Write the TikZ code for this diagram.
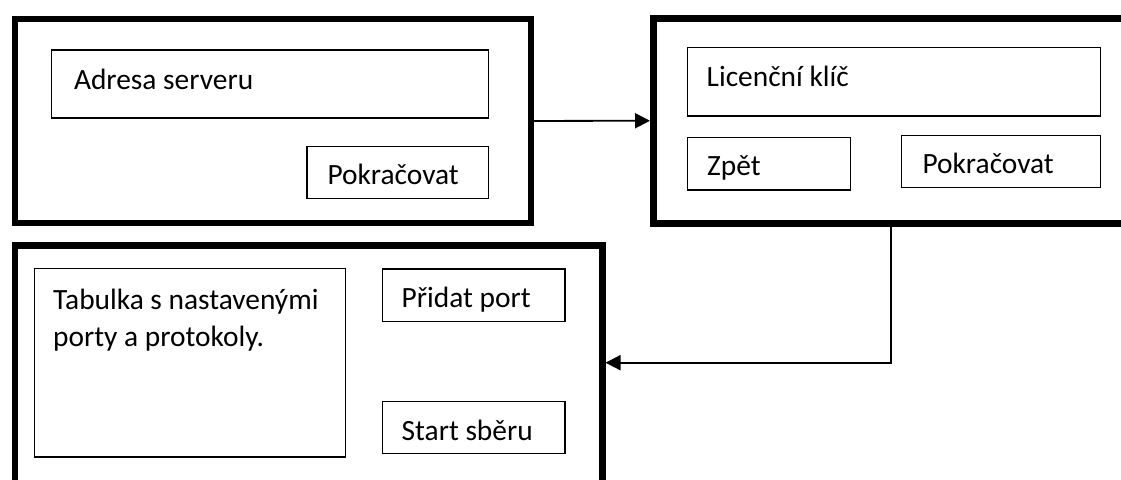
\documentclass[tikz,border=0pt]{standalone}
\usepackage{fontspec}
\setmainfont{Carlito}
\usetikzlibrary{arrows.meta}

\tikzset{
  frame/.style={draw=black, line width=6.5pt, anchor=north west, inner sep=0pt},
  field/.style={draw=black, line width=1.3pt, anchor=north west, inner sep=0pt},
  caption/.style={anchor=base west, inner sep=0pt, font=\fontsize{29.4}{37.4}\selectfont},
  flow/.style={draw=black, line width=1.8pt, -{Triangle[length=15pt,width=15pt]}}
}

\begin{document}
\begin{tikzpicture}[x=1pt, y=-1pt]
  \useasboundingbox (0,0) rectangle (1121,479);
  \fill[white] (0,0) rectangle (1121,479);
  \clip (0,0) rectangle (1121,479);

  % screen 1: server address
  \node[frame, minimum width=515.8pt, minimum height=204pt] (frame1) at (11.7,15.7) {};
  \node[field, minimum width=436.7pt, minimum height=68pt] (adresa) at (51,49.3) {};
  \node[caption] (adresaText) at (73.8,89) {Adresa serveru};
  \node[field, minimum width=181.3pt, minimum height=51.7pt] (pokr1) at (306.4,146) {};
  \node[caption] (pokr1Text) at (327.3,184.5) {Pokračovat};

  % screen 2: licence key
  \node[frame, minimum width=500pt, minimum height=205pt] (frame2) at (650,15) {};
  \node[field, minimum width=413pt, minimum height=68.6pt] (licence) at (687,46.7) {};
  \node[caption] (licenceText) at (706.5,86) {Licenční klíč};
  \node[field, minimum width=163pt, minimum height=52.6pt] (zpet) at (687,136.7) {};
  \node[caption] (zpetText) at (707,175) {Zpět};
  \node[field, minimum width=199pt, minimum height=51.7pt] (pokr2) at (901,135) {};
  \node[caption] (pokr2Text) at (922.3,173) {Pokračovat};

  % screen 3: port table
  \node[frame, minimum width=587.3pt, minimum height=260pt] (frame3) at (11.7,242.3) {};
  \node[field, minimum width=310.5pt, minimum height=188.6pt] (tabulka) at (34,267.7) {};
  % two-line caption: the base anchor sits on the last line
  \node[caption, align=left] (tabulkaText) at (53,346.7) {Tabulka s nastavenými\\porty a protokoly.};
  \node[field, minimum width=182.6pt, minimum height=52.4pt] (pridat) at (381.7,268.3) {};
  \node[caption] (pridatText) at (401.5,307.3) {Přidat port};
  \node[field, minimum width=182.6pt, minimum height=52pt] (start) at (381.7,401) {};
  \node[caption] (startText) at (401.5,440) {Start sběru};

  % transitions between the screens
  \draw[flow] (frame1.east) -- (frame2.west);
  \coordinate (bend) at (891,362.7);
  \draw[flow] (frame2.south -| bend) -- (bend) -- (frame3.east |- bend);
\end{tikzpicture}
\end{document}
